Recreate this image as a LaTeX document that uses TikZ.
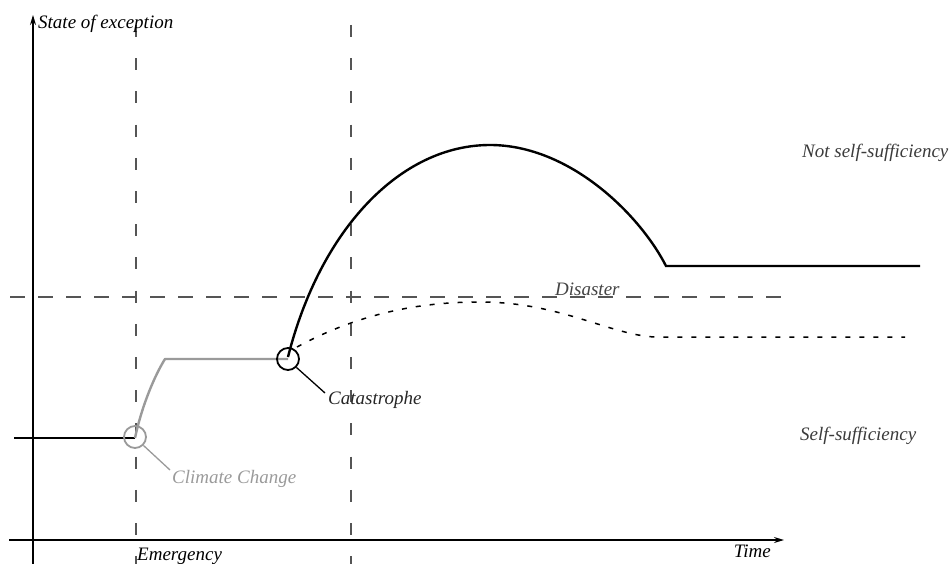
\documentclass[tikz,border=0pt]{standalone}
\usepackage{fontspec}
\setmainfont{Liberation Serif}
\usetikzlibrary{arrows.meta}
\definecolor{lgray}{HTML}{9A9A9A}
\definecolor{dgray}{HTML}{555555}
\tikzset{
  axisline/.style={line width=1.4pt, black, -{Stealth[length=10pt,width=6pt]}},
  vdash/.style={dgray, line width=1.1pt, dash pattern=on 12pt off 21.2pt},
  hdash/.style={dgray, line width=1.1pt, dash pattern=on 15pt off 13pt},
  mainline/.style={black, line width=2.4pt},
  grayline/.style={lgray, line width=2.4pt},
  dotline/.style={black, line width=1.5pt, dash pattern=on 5pt off 9pt},
  lbl/.style={font=\fontsize{19}{21}\selectfont\itshape, inner sep=0pt},
  ring/.style={circle, minimum size=22pt, inner sep=0pt, line width=1.8pt, draw},
}
\begin{document}
\begin{tikzpicture}[x=1pt,y=-1pt]
\useasboundingbox (0,0) rectangle (952,564);
% coordinates
\coordinate (yb) at (33,564);
\coordinate (yt) at (33,15);
\coordinate (xl) at (9,540);
\coordinate (xr) at (784,540);
\coordinate (v1t) at (136,25);
\coordinate (v1b) at (136,564);
\coordinate (v2t) at (351,25);
\coordinate (v2b) at (351,564);
\coordinate (hl) at (10,297);
\coordinate (hr) at (786,297);
% dashed guides
\draw[vdash] (v1t) -- (v1b);
\draw[vdash] (v2t) -- (v2b);
\draw[hdash] (hl) -- (hr);
% axes
\draw[axisline] (yb) -- (yt);
\draw[axisline] (xl) -- (xr);
% labels on axes
\node[lbl, anchor=west, text=black] (ylab) at (38,24) {State of exception};
\node[lbl, anchor=east, text=black] (tlab) at (771,551) {Time};
\node[lbl, anchor=west, text=black] (elab) at (137,556) {Emergency};
\node[lbl, anchor=west, text=dgray!80!black] (dlab) at (555,289) {Disaster};
\node[lbl, anchor=west, text=dgray!70!black] (nlab) at (802,153) {Not self-sufficiency};
\node[lbl, anchor=west, text=dgray!70!black] (slab) at (800,436) {Self-sufficiency};
% curves
\coordinate (p0) at (14,438);
\coordinate (p1) at (135,438);
\coordinate (p2) at (165,359);
\coordinate (p3) at (288,359);
\coordinate (c0) at (288,357);
\coordinate (peak) at (490,145);
\coordinate (down) at (666,266);
\coordinate (flat) at (920,266);
\draw[mainline] (p0) -- (p1);
\draw[grayline, line join=round] (p1) .. controls (142,405) and (155,375) .. (p2) -- (p3);
\coordinate (d0) at (297,347);
\coordinate (dpk) at (480,302);
\coordinate (d1) at (655,337);
\coordinate (d2) at (905,337);
\draw[dotline] (d0) .. controls (360,313) and (420,302) .. (dpk) .. controls (560,302) and (610,335) .. (d1) -- (d2);
\draw[mainline] (c0) .. controls (320,230) and (400,145) .. (peak) .. controls (570,145) and (640,215) .. (down) -- (flat);
% rings and callouts
\node[ring, draw=lgray] (r1) at (135,437) {};
\node[ring, draw=black] (r2) at (288,359) {};
\node[lbl, anchor=west, text=lgray] (clab) at (172,479) {Climate Change};
\node[lbl, anchor=west, text=black!85] (calab) at (328,400) {Catastrophe};
\coordinate (ct1) at (170,470);
\coordinate (ct2) at (325,393);
\draw[lgray, line width=1.3pt] (r1.-45) -- (ct1);
\draw[black, line width=1.3pt] (r2.-45) -- (ct2);
\end{tikzpicture}
\end{document}
